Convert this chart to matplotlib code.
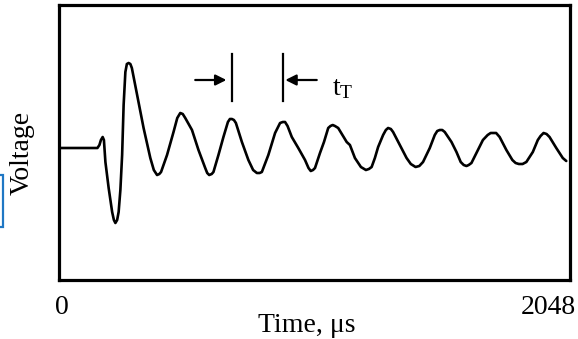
import numpy as np
import matplotlib.pyplot as plt
from matplotlib.patches import Rectangle

plt.rcParams['font.family'] = ['Liberation Serif', 'DejaVu Serif']
plt.rcParams['mathtext.fontset'] = 'stix'

# Received waveform (time in microseconds, voltage in arbitrary units)
time_us = [0, 156, 164, 170, 177, 182, 188, 201, 215, 222, 228, 235, 241, 248,
           255, 261, 268, 274, 281, 288, 294, 315, 341, 368, 382, 395, 404, 411,
           435, 461, 476, 488, 498, 508, 535, 561, 588, 596, 604, 614, 621, 641,
           661, 679, 687, 695, 703, 711, 735, 761, 780, 795, 806, 815, 841, 868,
           888, 899, 908, 918, 935, 961, 988, 1002, 1011, 1020, 1028, 1048,
           1064, 1081, 1090, 1099, 1108, 1121, 1155, 1168, 1188, 1212, 1232,
           1244, 1255, 1268, 1281, 1301, 1312, 1321, 1332, 1341, 1368, 1395,
           1412, 1431, 1446, 1461, 1488, 1508, 1518, 1528, 1538, 1548, 1575,
           1595, 1612, 1624, 1635, 1644, 1655, 1675, 1701, 1720, 1732, 1741,
           1754, 1768, 1795, 1819, 1832, 1845, 1860, 1875, 1901, 1921, 1932,
           1944, 1956, 1968, 1995, 2021, 2035]
voltage = [0.00, 0.00, 0.03, 0.08, 0.11, 0.08, -0.14, -0.40, -0.64, -0.72,
           -0.75, -0.72, -0.64, -0.42, -0.07, 0.43, 0.76, 0.84, 0.85, 0.84,
           0.80, 0.53, 0.20, -0.10, -0.22, -0.27, -0.26, -0.24, -0.07, 0.16,
           0.30, 0.35, 0.34, 0.30, 0.18, -0.02, -0.20, -0.25, -0.27, -0.26,
           -0.24, -0.07, 0.11, 0.26, 0.29, 0.29, 0.28, 0.25, 0.06, -0.12,
           -0.22, -0.25, -0.25, -0.24, -0.07, 0.15, 0.25, 0.26, 0.26, 0.22,
           0.11, 0.00, -0.12, -0.20, -0.23, -0.22, -0.20, -0.05, 0.06, 0.20,
           0.22, 0.23, 0.22, 0.20, 0.06, 0.03, -0.10, -0.19, -0.22, -0.21,
           -0.19, -0.10, 0.01, 0.13, 0.18, 0.20, 0.19, 0.16, 0.03, -0.10,
           -0.16, -0.19, -0.18, -0.14, 0.00, 0.13, 0.17, 0.18, 0.18, 0.16,
           0.06, -0.04, -0.14, -0.17, -0.18, -0.17, -0.15, -0.05, 0.08, 0.13,
           0.15, 0.15, 0.15, 0.11, -0.02, -0.12, -0.15, -0.16, -0.16, -0.14,
           -0.04, 0.08, 0.12, 0.15, 0.14, 0.11, 0.00, -0.10, -0.13]

# Two successive peaks used to mark the period t_T
peak_times = [695, 899]
t_max = 2048

fig = plt.figure(figsize=(5.78, 3.39), dpi=100)
ax = fig.add_axes([58.5 / 578, 59 / 339, 511 / 578, 275 / 339])

ax.plot(time_us, voltage, color='black', lw=1.9, solid_joinstyle='round',
        solid_capstyle='round')

ax.set_xlim(0, t_max)
ax.set_ylim(-1.32, 1.43)
ax.set_xticks([])
ax.set_yticks([])
for sp in ax.spines.values():
    sp.set_linewidth(2.3)

# period markers
for pt in peak_times:
    ax.plot([pt, pt], [0.47, 0.94], color='black', lw=1.6)
arrow = dict(arrowstyle='-|>', color='black', lw=1.6, mutation_scale=16,
             shrinkA=0, shrinkB=0)
ax.annotate('', xy=(peak_times[0] - 22, 0.68), xytext=(548, 0.68),
            arrowprops=arrow)
ax.annotate('', xy=(peak_times[1] + 10, 0.68), xytext=(1035, 0.68),
            arrowprops=arrow)
ax.text(1098, 0.53, r'$\mathregular{t_T}$', fontsize=20, va='baseline',
        ha='left')

# axis labels
fig.text(307 / 578, (339 - 332) / 339, 'Time, \u03bcs', fontsize=20,
         ha='center', va='baseline')
fig.text(55.5 / 578, (339 - 314.5) / 339, '0', fontsize=20, ha='left',
         va='baseline')
fig.text(521 / 578, (339 - 314.5) / 339, '2048', fontsize=20, ha='left',
         va='baseline')
fig.text(22 / 578, (339 - 152.5) / 339, 'Voltage', fontsize=20, rotation=90,
         ha='center', va='center')

# small blue bracket at the left edge
fig.patches.append(Rectangle((-3 / 578, (339 - 227) / 339), 6 / 578, 52 / 339,
                             transform=fig.transFigure, fill=False,
                             edgecolor='#1f77c4', lw=1.6))

fig.savefig('out.png', dpi=100)
